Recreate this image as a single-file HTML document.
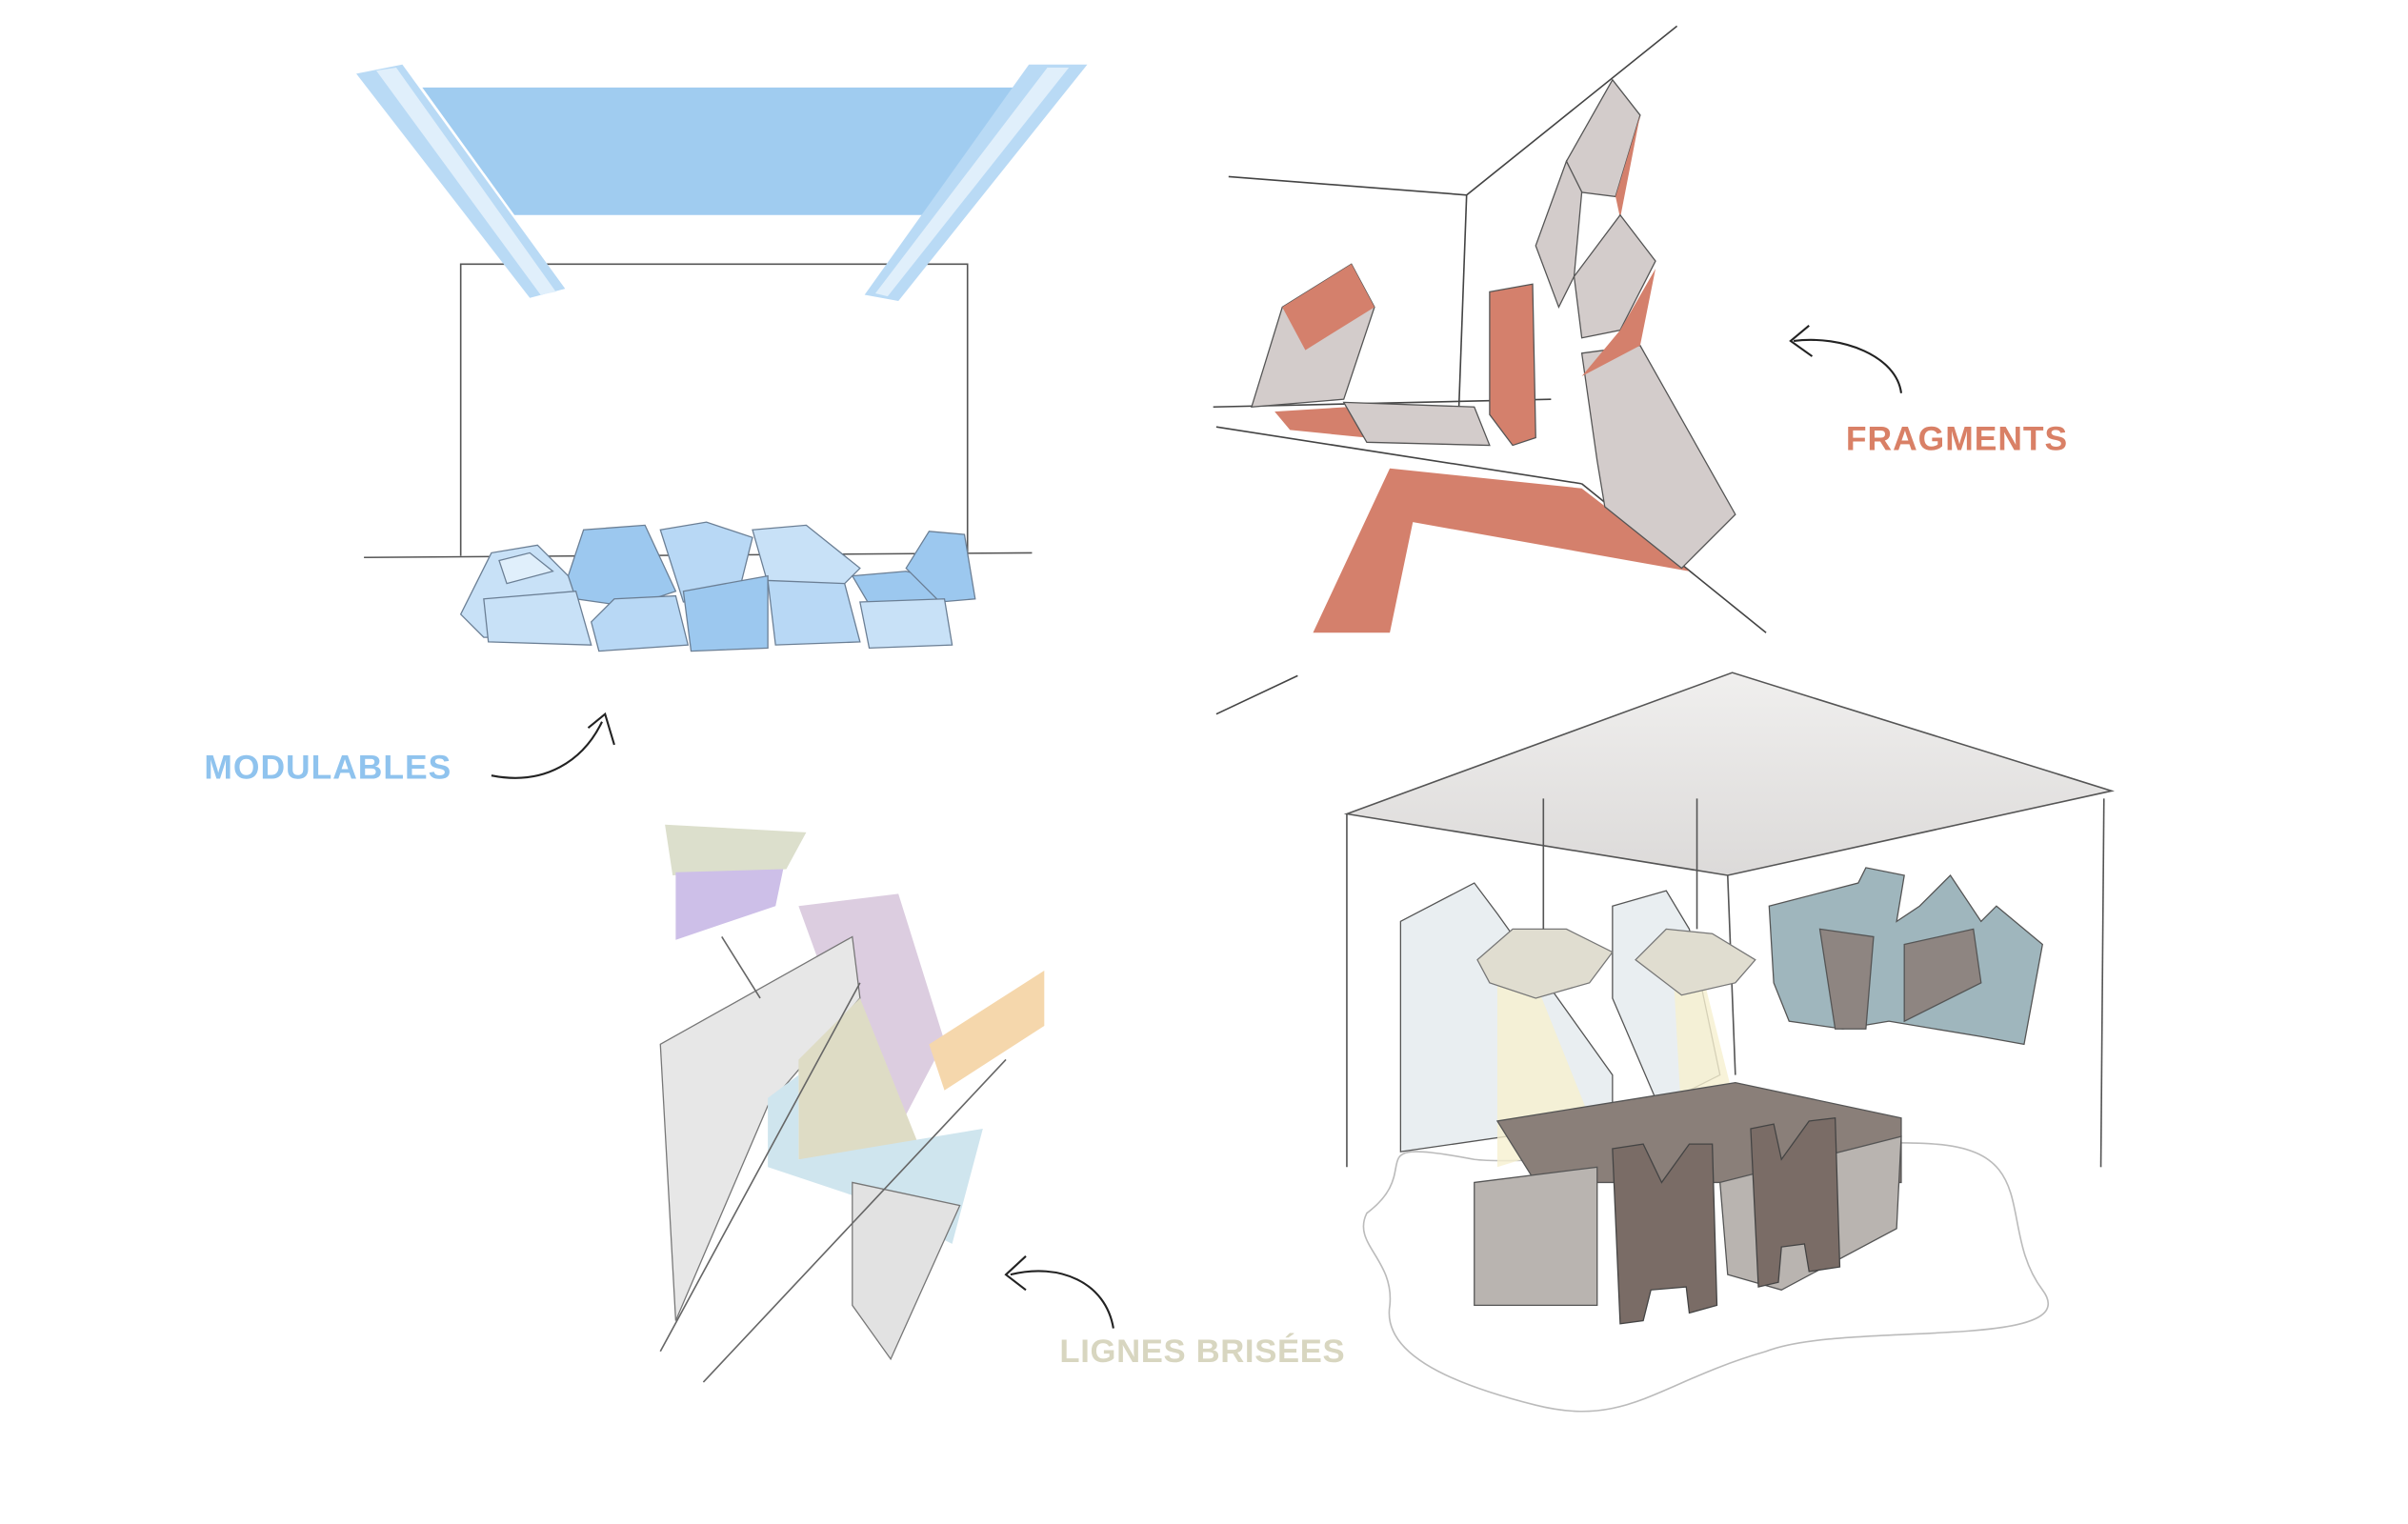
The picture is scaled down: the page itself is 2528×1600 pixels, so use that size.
<!DOCTYPE html>
<html><head><meta charset="utf-8"><style>
html,body{margin:0;padding:0;background:#fff}
svg{display:block}
text{font-family:"Liberation Sans",sans-serif;font-weight:bold}
</style></head><body>
<svg width="2528" height="1600" viewBox="0 0 1568 992.4" preserveAspectRatio="none" xmlns="http://www.w3.org/2000/svg">
<defs>
<linearGradient id="cg" x1="0" y1="0" x2="0" y2="1"><stop offset="0" stop-color="#f0efee"/><stop offset="1" stop-color="#dcdad9"/></linearGradient>
</defs>
<rect width="1568" height="992.4" fill="#fff"/>
<!-- TOP LEFT: modulables -->
<g stroke="#555" stroke-width="1" fill="none">
<polyline points="300,362 300,172 630,172 630,362"/>
<line x1="237" y1="363" x2="672" y2="360"/>
</g>
<polygon points="275,57 660,57 625,140 335,140" fill="#a0ccf0"/>
<polygon points="232,48 262,42 368,188 345,194" fill="#b9daf5"/>
<polygon points="245,46 258,44 362,190 352,192" fill="#e0effb"/>
<polygon points="670,42 708,42 585,196 563,192" fill="#b9daf5"/>
<polygon points="682,44 696,44 578,193 570,191" fill="#e0effb"/>
<g stroke="#6b7f95" stroke-width="0.8">
<polygon points="300,400 320,360 350,355 375,380 365,415 315,415" fill="#c8e1f7"/>
<polygon points="370,375 380,345 420,342 440,385 410,395 375,390" fill="#9cc8ef"/>
<polygon points="430,345 460,340 490,350 480,390 445,392" fill="#b8d8f5"/>
<polygon points="490,345 525,342 560,370 545,385 500,380" fill="#c8e1f7"/>
<polygon points="555,375 590,372 620,380 615,392 565,392" fill="#9cc8ef"/>
<polygon points="590,370 605,346 628,348 635,390 612,392" fill="#9cc8ef"/>
<polygon points="315,390 375,385 385,420 318,418" fill="#c8e1f7"/>
<polygon points="385,405 400,390 440,388 448,420 390,424" fill="#b8d8f5"/>
<polygon points="445,385 500,375 500,422 450,424" fill="#9cc8ef"/>
<polygon points="500,378 550,380 560,418 505,420" fill="#b8d8f5"/>
<polygon points="560,392 615,390 620,420 566,422" fill="#c8e1f7"/>
<polygon points="325,365 345,360 360,372 330,380" fill="#e0effb"/>
</g>
<text x="133" y="507" font-size="22" letter-spacing="0.6" fill="#8fc3ee">MODULABLES</text>
<path d="M320,505 C355,512 380,495 392,470" stroke="#222" stroke-width="1.3" fill="none"/>
<path d="M383,474 L394,465 L400,485" stroke="#222" stroke-width="1.3" fill="none"/>
<!-- TOP RIGHT: fragments -->
<g stroke="#444" stroke-width="1" fill="none">
<polyline points="800,115 955,127 1092,17"/>
<line x1="955" y1="127" x2="950" y2="265"/>
<line x1="790" y1="265" x2="1010" y2="260"/>
<line x1="792" y1="278" x2="1030" y2="315"/>
<line x1="1030" y1="315" x2="1150" y2="412"/>
<line x1="792" y1="465" x2="845" y2="440"/>
</g>
<polygon points="905,305 1030,318 1100,372 920,340 905,412 855,412" fill="#d4806c"/>
<polygon points="1030,230 1068,225 1130,335 1095,370 1045,330 1040,300" fill="#d3cccb" stroke="#555" stroke-width="0.8"/>
<polygon points="1020,105 1050,52 1068,75 1052,128 1028,125" fill="#d3cccb" stroke="#555" stroke-width="0.8"/>
<polygon points="1052,128 1068,75 1055,142" fill="#d4806c"/>
<polygon points="1000,160 1020,105 1030,125 1025,180 1015,200" fill="#d3cccb" stroke="#555" stroke-width="0.8"/>
<polygon points="1025,180 1055,140 1078,170 1055,215 1030,220" fill="#d3cccb" stroke="#555" stroke-width="0.8"/>
<polygon points="1030,245 1055,215 1078,175 1068,225" fill="#d4806c"/>
<polygon points="970,190 998,185 1000,285 985,290 970,270" fill="#d4806c" stroke="#555" stroke-width="0.8"/>
<polygon points="815,265 835,200 880,172 895,200 875,260" fill="#d3cccb" stroke="#555" stroke-width="0.8"/>
<polygon points="835,200 880,172 895,200 850,228" fill="#d4806c"/>
<polygon points="830,268 878,265 890,285 840,280" fill="#d4806c"/>
<polygon points="875,262 960,265 970,290 890,288" fill="#d3cccb" stroke="#555" stroke-width="0.8"/>
<text x="1202" y="293" font-size="22" letter-spacing="0.6" fill="#d98066">FRAGMENTS</text>
<path d="M1238,256 C1235,232 1200,218 1168,222" stroke="#222" stroke-width="1.3" fill="none"/>
<path d="M1178,212 L1166,222 L1180,232" stroke="#222" stroke-width="1.3" fill="none"/>
<!-- BOTTOM LEFT: lignes brisées -->
<polygon points="433,537 525,542 512,566 438,570" fill="#dcdfcc"/>
<polygon points="440,568 510,566 505,590 440,612" fill="#cdbfe8"/>
<polygon points="520,590 585,582 615,678 580,745 560,700" fill="#dccde0"/>
<polygon points="605,680 680,632 680,668 615,710" fill="#f5d7ac"/>
<polygon points="430,680 555,610 560,650 500,720 440,860" fill="#e7e7e7" stroke="#777" stroke-width="0.8"/>
<polygon points="520,690 560,650 600,750 520,755" fill="#dedcc5"/>
<polygon points="500,715 520,700 520,755 640,735 620,810 560,780 500,760" fill="#cfe5ee"/>
<polygon points="555,770 625,785 580,885 555,850" fill="#e2e2e2" stroke="#777" stroke-width="0.8"/>
<g stroke="#666" stroke-width="1" fill="none">
<line x1="430" y1="880" x2="560" y2="640"/>
<line x1="458" y1="900" x2="655" y2="690"/>
<line x1="470" y1="610" x2="495" y2="650"/>
</g>
<text x="690" y="887" font-size="21.5" letter-spacing="0.4" fill="#d8d6c0">LIGNES BRISÉES</text>
<path d="M725,865 C720,835 690,822 658,830" stroke="#222" stroke-width="1.3" fill="none"/>
<path d="M668,818 L655,830 L668,840" stroke="#222" stroke-width="1.3" fill="none"/>
<!-- BOTTOM RIGHT: room -->
<polygon points="877,530 1128,438 1375,515 1125,570" fill="url(#cg)" stroke="#555" stroke-width="1"/>
<g stroke="#555" stroke-width="1" fill="none">
<line x1="877" y1="530" x2="877" y2="760"/>
<line x1="1370" y1="520" x2="1368" y2="760"/>
<line x1="1125" y1="570" x2="1130" y2="700"/>
<path d="M890,790 C930,760 880,740 960,755 C1000,760 1200,740 1260,745 C1330,750 1300,800 1330,840 C1360,880 1200,860 1150,880 C1080,900 1060,930 1000,915 C940,900 900,880 905,850 C908,820 880,810 890,790Z" stroke="#bbb"/>
</g>
<polygon points="912,600 960,575 975,595 1050,700 1050,730 912,750" fill="#e9eef1" stroke="#555" stroke-width="0.8"/>
<polygon points="1050,590 1085,580 1100,605 1120,700 1080,720 1050,650" fill="#e9eef1" stroke="#555" stroke-width="0.8"/>
<polygon points="975,640 1000,640 1040,740 975,760" fill="#f6f0d0" opacity="0.8"/>
<polygon points="1090,640 1110,640 1130,720 1095,730" fill="#f6f0d0" opacity="0.8"/>
<g fill="#e0ddd0" stroke="#777" stroke-width="0.8">
<polygon points="962,625 985,605 1020,605 1050,620 1035,640 1000,650 970,640"/>
<polygon points="1065,625 1085,605 1115,608 1143,625 1130,640 1095,648"/>
</g>
<line x1="1005" y1="520" x2="1005" y2="605" stroke="#555"/>
<line x1="1105" y1="520" x2="1105" y2="605" stroke="#555"/>
<g stroke="#555" stroke-width="0.8">
<polygon points="1152,590 1210,575 1215,565 1240,570 1235,600 1250,590 1270,570 1290,600 1300,590 1330,615 1318,680 1290,675 1230,665 1200,670 1165,665 1155,640" fill="#9fb6bd"/>
<polygon points="1185,605 1220,610 1215,670 1195,670" fill="#8e8581"/>
<polygon points="1240,615 1285,605 1290,640 1240,665" fill="#8e8581"/>
</g>
<polygon points="975,730 1130,705 1238,728 1238,770 1000,770" fill="#8a7f79" stroke="#555" stroke-width="0.8"/>
<polygon points="960,770 1040,760 1040,850 960,850" fill="#b9b4b0" stroke="#555" stroke-width="0.8"/>
<polygon points="1120,770 1238,740 1235,800 1160,840 1125,830" fill="#b9b4b0" stroke="#555" stroke-width="0.8"/>
<g fill="#7a6c66" stroke="#444" stroke-width="0.8">
<polygon points="1050,748 1070,745 1082,770 1100,745 1115,745 1118,850 1100,855 1098,838 1075,840 1070,860 1055,862"/>
<polygon points="1140,735 1155,732 1160,755 1178,730 1195,728 1198,825 1178,828 1175,810 1160,812 1158,835 1145,838"/>
</g>
</svg>
</body></html>
